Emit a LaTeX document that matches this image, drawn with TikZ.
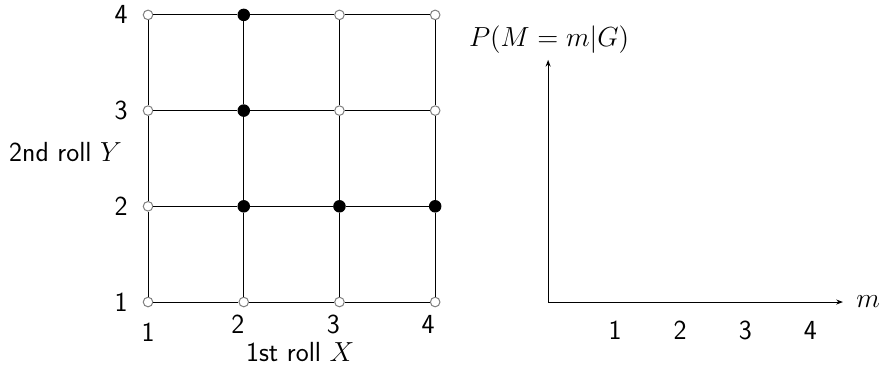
\documentclass[tikz,border=0pt]{standalone}
\usepackage{fix-cm}
\usepackage{amsmath}
\usepackage{tikz}
\usetikzlibrary{arrows.meta}

\begin{document}
\begin{tikzpicture}[
    open/.style={circle,draw=gray,fill=white,inner sep=0pt,minimum size=2mm},
    hit/.style={circle,draw,fill=black,inner sep=0pt,minimum size=2.4mm},
    lbl/.style={inner sep=1pt},
    >={Stealth[length=4pt,width=3pt]}, semithick,
    font=\sffamily\fontsize{16.4}{20}\selectfont
  ]
  \useasboundingbox (-3.093,-1.358) rectangle (15.42,6.311);

  % outcome grid
  \foreach \i in {1,...,4}
    \foreach \j in {1,...,4}
      \node[open] (p\i\j) at ({2*(\i-1)},{2*(\j-1)}) {};
  \foreach \i/\j in {2/4,2/3,2/2,3/2,4/2}
    \node[hit] (p\i\j) at ({2*(\i-1)},{2*(\j-1)}) {};
  \foreach \j in {1,...,4}
    \foreach \i/\k in {1/2,2/3,3/4} {
      \draw (p\i\j) -- (p\k\j);
      \draw (p\j\i) -- (p\j\k);
    }

  % axis labels of the grid
  \foreach \j in {1,...,4}
    \node[lbl] (ly\j) at (-0.56,{2*(\j-1)}) {\j};
  \node[lbl] (lx1) at (0,-0.63) {1};
  \foreach \i in {2,3}
    \node[lbl] (lx\i) at ({2*(\i-1)-0.125},-0.46) {\i};
  \node[lbl] (lx4) at (5.85,-0.46) {4};
  \node[lbl,anchor=east] (ylab) at (-0.5,3.135) {2nd roll $Y$};
  \node[lbl] (xlab) at (3.18,-1.045) {1st roll $X$};

  % distribution of M
  \coordinate (o) at (8.36,0);
  \coordinate (ytop) at (8.36,5.06);
  \coordinate (xend) at (14.52,0);
  \draw[->] (o) -- (ytop);
  \draw[->] (o) -- (xend);
  \node[lbl] (plab) at (8.38,5.475) {$P(M = m|G)$};
  \node[lbl] (mlab) at (15.05,0) {$m$};
  \foreach \m in {1,...,4}
    \node[lbl] (t\m) at ({9.76+1.36*(\m-1)},-0.585) {\m};
\end{tikzpicture}
\end{document}
